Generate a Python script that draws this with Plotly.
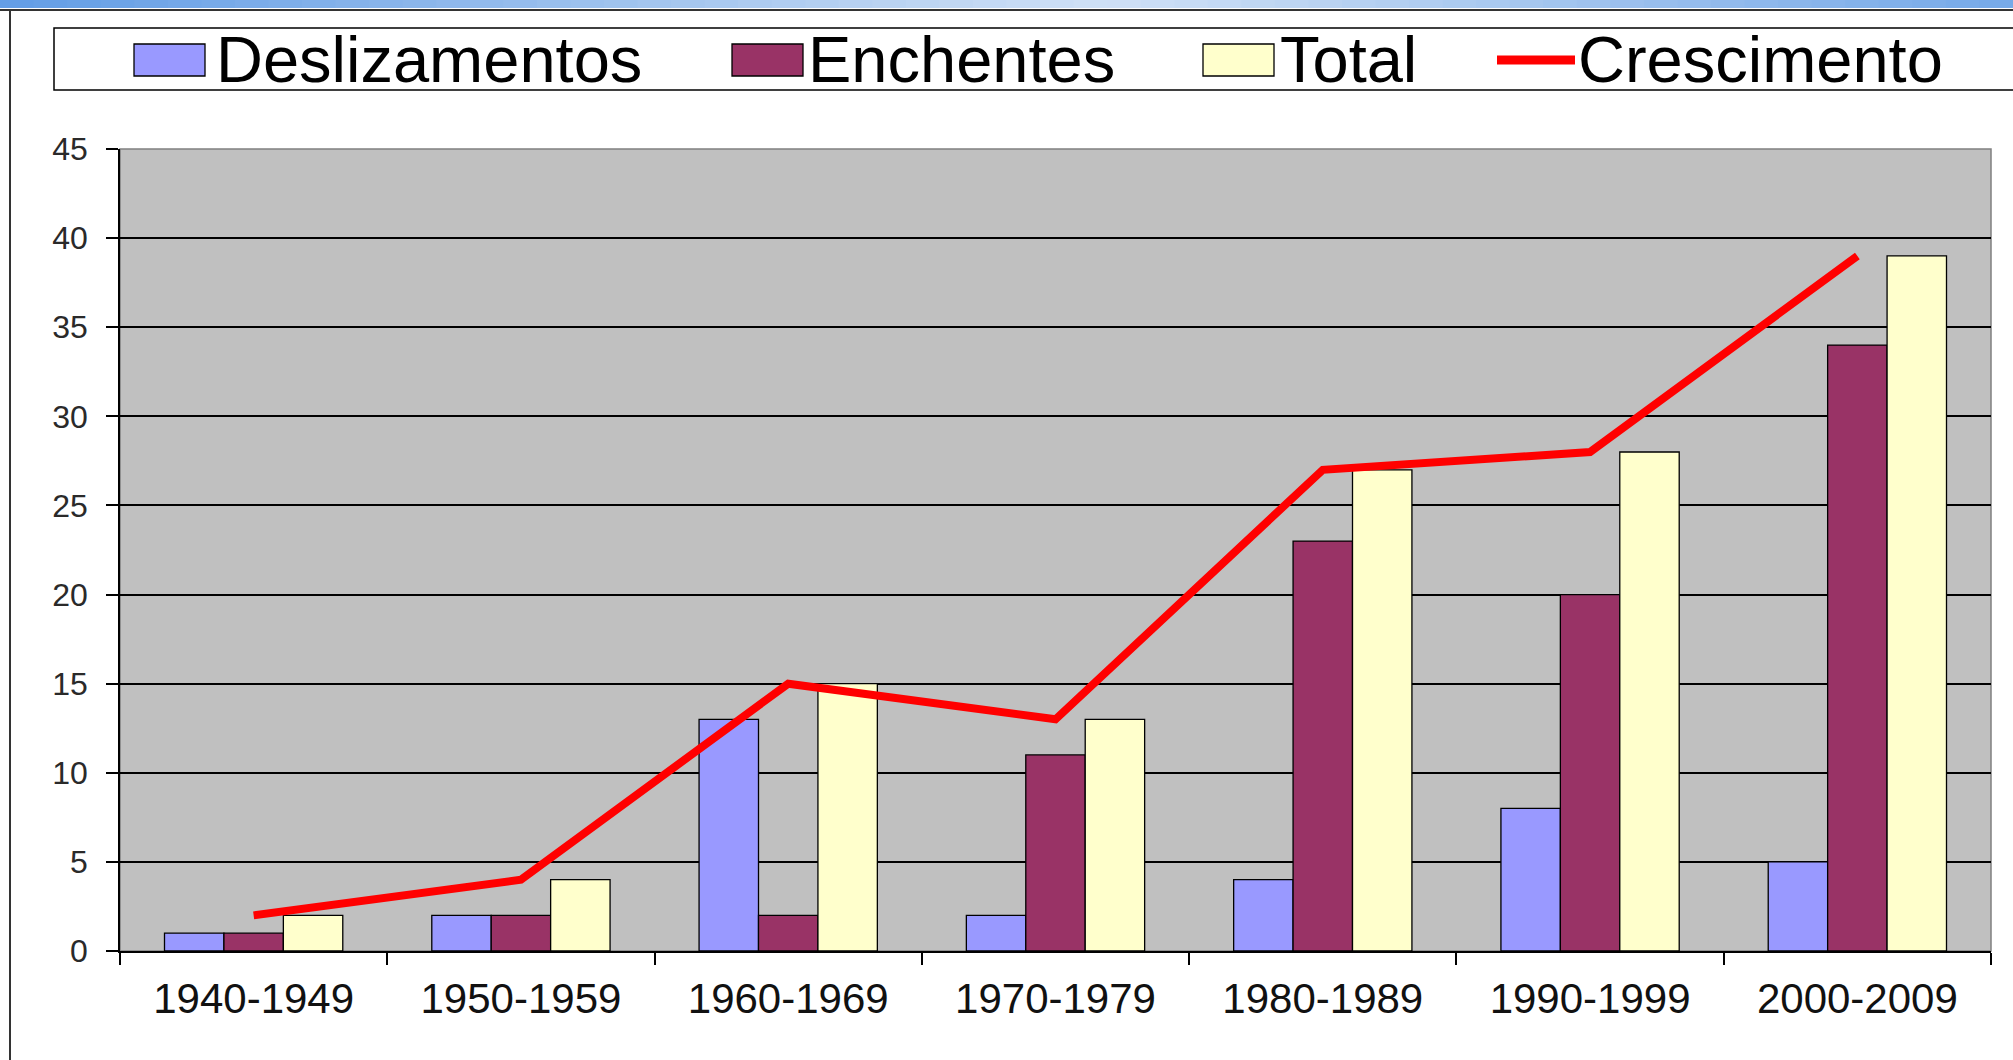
import plotly.graph_objects as go

# dados por década
decadas = ['1940-1949', '1950-1959', '1960-1969', '1970-1979',
           '1980-1989', '1990-1999', '2000-2009']
deslizamentos = [1, 2, 13, 2, 4, 8, 5]
enchentes = [1, 2, 2, 11, 23, 20, 34]
total = [2, 4, 15, 13, 27, 28, 39]
crescimento = [2, 4, 15, 13, 27, 28, 39]
y_ticks = [0, 5, 10, 15, 20, 25, 30, 35, 40, 45]

series_names = ['Deslizamentos', 'Enchentes', 'Total', 'Crescimento']
series_colors = ['#9999FF', '#993366', '#FFFFCC', '#FF0000']

W, H = 2013, 1060
L, R, T, B = 120, 1991, 149, 951  # plot area in pixels
FONT = 'Arial, Liberation Sans, sans-serif'


def px(x):
    return (x - L) / (R - L)


def py(y):
    return (B - y) / (B - T)


fig = go.Figure()
for name, vals, color in zip(series_names[:3], [deslizamentos, enchentes, total], series_colors[:3]):
    fig.add_trace(go.Bar(x=decadas, y=vals, name=name, marker_color=color,
                         marker_line=dict(color='#000000', width=1.3),
                         showlegend=False))

fig.add_trace(go.Scatter(x=decadas, y=crescimento, name=series_names[3], mode='lines',
                         line=dict(color=series_colors[3], width=8), showlegend=False))

shapes = []

# faixa azul no topo (degradê)
n = 60
for i in range(n):
    t = i / (n - 1)
    # escuro -> claro -> escuro
    k = abs(t - 0.55) / 0.55
    r = int(208 - (208 - 100) * k)
    g = int(225 - (225 - 158) * k)
    b = int(246 - (246 - 230) * k)
    shapes.append(dict(type='rect', xref='paper', yref='paper',
                       x0=px(i * W / n), x1=px((i + 1) * W / n + 1),
                       y0=py(8), y1=py(-1), line_width=0,
                       fillcolor=f'rgb({r},{g},{b})', layer='below'))

# moldura externa
shapes.append(dict(type='line', xref='paper', yref='paper', x0=px(0), x1=px(W + 5),
                   y0=py(10), y1=py(10), line=dict(color='#333333', width=2)))
shapes.append(dict(type='line', xref='paper', yref='paper', x0=px(10), x1=px(10),
                   y0=py(10), y1=py(H + 5), line=dict(color='#333333', width=2)))

# borda da área de plotagem
shapes.append(dict(type='rect', xref='paper', yref='paper', x0=0, x1=1, y0=0, y1=1,
                   line=dict(color='#808080', width=1.5), layer='below'))

# caixa da legenda
shapes.append(dict(type='rect', xref='paper', yref='paper', x0=px(54), x1=px(W + 20),
                   y0=py(90), y1=py(28), line=dict(color='#000000', width=1.5),
                   fillcolor='white'))

annotations = []
swatch_x = [134, 732, 1203, 1497]
text_x = [214, 806, 1278, 1576]
for i, name in enumerate(series_names):
    if i < 3:
        shapes.append(dict(type='rect', xref='paper', yref='paper',
                           x0=px(swatch_x[i]), x1=px(swatch_x[i] + 71),
                           y0=py(76), y1=py(44), fillcolor=series_colors[i],
                           line=dict(color='#000000', width=1.3)))
    else:
        shapes.append(dict(type='line', xref='paper', yref='paper',
                           x0=px(swatch_x[i]), x1=px(swatch_x[i] + 78),
                           y0=py(60), y1=py(60),
                           line=dict(color=series_colors[i], width=9)))
    annotations.append(dict(text=name, xref='paper', yref='paper', x=px(text_x[i]),
                            y=py(60), xanchor='left', yanchor='middle', showarrow=False,
                            font=dict(family=FONT, size=65, color='#000000')))

fig.update_layout(
    width=W, height=H,
    margin=dict(l=L, r=W - R, t=T, b=H - B, pad=0),
    paper_bgcolor='white',
    plot_bgcolor='#C0C0C0',
    barmode='group', bargap=0.333, bargroupgap=0,
    font=dict(family=FONT, color='#000000'),
    shapes=shapes,
    annotations=annotations,
    xaxis=dict(type='category', showgrid=False, showline=True, linecolor='#000000',
               linewidth=1.5, ticks='outside', tickson='boundaries', ticklen=12,
               tickcolor='#000000', tickwidth=1.5, tickfont=dict(size=42, color='#111111'),
               ticklabelstandoff=10),
    yaxis=dict(range=[0, 45], tickvals=y_ticks, showgrid=True, gridcolor='#000000',
               gridwidth=1.5, showline=True, linecolor='#000000', linewidth=1.5,
               ticks='outside', ticklen=12, tickcolor='#000000', tickwidth=1.5,
               tickfont=dict(size=32, color='#2a2a2a'), ticklabelstandoff=12,
               zeroline=False),
)

fig.write_html('out.html', config={'displayModeBar': False},
               post_script="document.body.style.margin='0';document.body.style.overflow='hidden';")
